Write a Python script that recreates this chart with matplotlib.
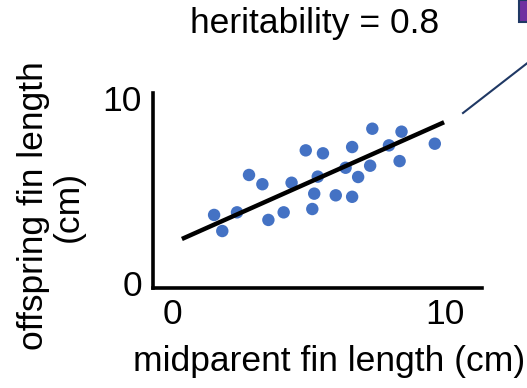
import numpy as np
import matplotlib.pyplot as plt
from matplotlib.patches import Rectangle
from matplotlib.lines import Line2D

plt.rcParams['font.family'] = ['Liberation Sans', 'DejaVu Sans']

# midparent vs offspring fin length (cm)
midparent = [1.54, 1.84, 2.38, 2.82, 3.31, 3.53, 4.09, 4.38, 4.90, 5.14, 5.21, 5.34,
             5.53, 6.00, 6.36, 6.60, 6.60, 6.82, 7.26, 7.34, 7.95, 8.34, 8.41, 9.63]
offspring = [3.68, 2.81, 3.82, 5.84, 5.34, 3.41, 3.82, 5.42, 7.17, 4.00, 4.83, 5.75,
             7.01, 4.74, 6.23, 4.66, 7.35, 5.73, 6.34, 8.34, 7.44, 6.59, 8.18, 7.53]
fit_x = [0.36, 9.97]
fit_y = [2.38, 8.69]
ticks = [0, 10]

fs = 25.5

fig = plt.figure(figsize=(5.27, 3.88), dpi=100)
ax = fig.add_axes([0.2903, 0.2577, 0.6243, 0.5026])

ax.scatter(midparent, offspring, s=80, color='#4472C4', edgecolors='none', zorder=3)
ax.plot(fit_x, fit_y, color='black', lw=3.2, solid_capstyle='butt', zorder=4)

ax.set_xlim(-0.70, 11.36)
ax.set_ylim(-0.27, 10.27)
ax.set_xticks(ticks)
ax.set_yticks(ticks)
ax.tick_params(length=0, labelsize=fs, pad=8)
ax.tick_params(axis='x', pad=7)
for s in ['top', 'right']:
    ax.spines[s].set_visible(False)
for s in ['left', 'bottom']:
    ax.spines[s].set_linewidth(2.6)
    ax.spines[s].set_capstyle('projecting')

fig.text(315/527, 1 - 24/388, 'heritability = 0.8', fontsize=fs, ha='center', va='center')
fig.text(329/527, 1 - 362/388, 'midparent fin length (cm)', fontsize=fs, ha='center', va='center')
fig.text(51/527, 1 - 206/388, 'offspring fin length\n(cm)', fontsize=fs, ha='center',
         va='center', rotation=90, linespacing=1.05)

# decorative callout in the top right corner
fig.add_artist(Rectangle((519/527, 1 - 22/388), 10/527, 22/388, transform=fig.transFigure,
                         facecolor='#7030A0', edgecolor='#1F3864', lw=1.5))
fig.add_artist(Line2D([463/527, 530/527], [1 - 113/388, 1 - 61/388], transform=fig.transFigure,
                      color='#1F3864', lw=1.5))

fig.savefig('out.png', dpi=100)
